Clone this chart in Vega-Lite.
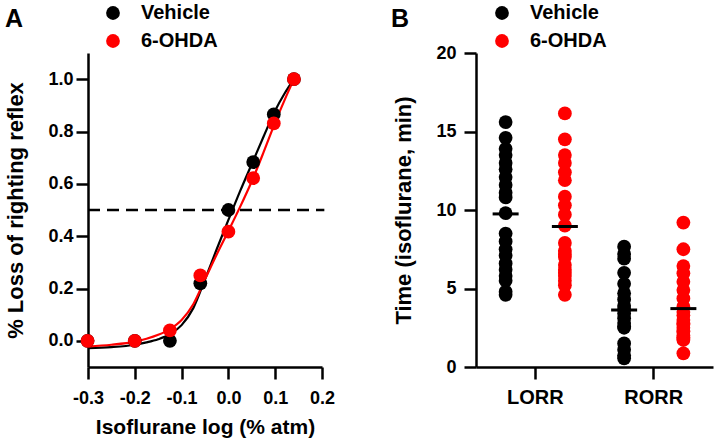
{
  "$schema": "https://vega.github.io/schema/vega-lite/v6.json",
  "background": "white",
  "padding": {"left": 4, "top": 3, "right": 2, "bottom": 2},
  "bounds": "flush",
  "spacing": 154,
  "config": {
    "font": "Liberation Sans",
    "view": {"stroke": null},
    "axis": {
      "grid": false,
      "domainColor": "black",
      "domainWidth": 2.5,
      "tickColor": "black",
      "tickWidth": 2.5,
      "tickSize": 12,
      "labelFont": "Liberation Sans",
      "labelFontWeight": "bold",
      "labelFontSize": 18,
      "labelColor": "black",
      "titleFont": "Liberation Sans",
      "titleFontWeight": "bold",
      "titleColor": "black"
    },
    "legend": {
      "orient": "none",
      "padding": 0,
      "symbolType": "circle",
      "symbolSize": 190,
      "symbolStrokeWidth": 0,
      "symbolOpacity": 1,
      "labelFont": "Liberation Sans",
      "labelFontSize": 20,
      "labelFontWeight": "bold",
      "labelColor": "black",
      "labelOffset": 18,
      "rowPadding": 8
    },
    "title": {"font": "Liberation Sans", "fontSize": 25, "fontWeight": "bold", "color": "black", "anchor": "start", "frame": "group", "baseline": "alphabetic", "offset": -29}
  },
  "datasets": {
    "dose": [
      {"x": -0.301, "y": 0.0, "group": "Vehicle", "z": 0},
      {"x": -0.2, "y": 0.0, "group": "Vehicle", "z": 0},
      {"x": -0.125, "y": 0.0, "group": "Vehicle", "z": 0},
      {"x": -0.06, "y": 0.22, "group": "Vehicle", "z": 0},
      {"x": 0.0, "y": 0.5, "group": "Vehicle", "z": 0},
      {"x": 0.053, "y": 0.683, "group": "Vehicle", "z": 0},
      {"x": 0.097, "y": 0.865, "group": "Vehicle", "z": 0},
      {"x": 0.14, "y": 1.0, "group": "Vehicle", "z": 0},
      {"x": -0.301, "y": 0.0, "group": "6-OHDA", "z": 1},
      {"x": -0.2, "y": 0.0, "group": "6-OHDA", "z": 1},
      {"x": -0.125, "y": 0.04, "group": "6-OHDA", "z": 1},
      {"x": -0.06, "y": 0.25, "group": "6-OHDA", "z": 1},
      {"x": 0.0, "y": 0.417, "group": "6-OHDA", "z": 1},
      {"x": 0.053, "y": 0.622, "group": "6-OHDA", "z": 1},
      {"x": 0.097, "y": 0.831, "group": "6-OHDA", "z": 1},
      {"x": 0.14, "y": 1.0, "group": "6-OHDA", "z": 1}
    ],
    "fit": [
      {"x": -0.3, "y": -0.028, "group": "Vehicle"},
      {"x": -0.25, "y": -0.024, "group": "Vehicle"},
      {"x": -0.2, "y": -0.015, "group": "Vehicle"},
      {"x": -0.175, "y": -0.006, "group": "Vehicle"},
      {"x": -0.15, "y": 0.006, "group": "Vehicle"},
      {"x": -0.125, "y": 0.025, "group": "Vehicle"},
      {"x": -0.1, "y": 0.06, "group": "Vehicle"},
      {"x": -0.075, "y": 0.125, "group": "Vehicle"},
      {"x": -0.05, "y": 0.235, "group": "Vehicle"},
      {"x": -0.025, "y": 0.35, "group": "Vehicle"},
      {"x": 0.0, "y": 0.462, "group": "Vehicle"},
      {"x": 0.025, "y": 0.572, "group": "Vehicle"},
      {"x": 0.05, "y": 0.676, "group": "Vehicle"},
      {"x": 0.075, "y": 0.78, "group": "Vehicle"},
      {"x": 0.1, "y": 0.88, "group": "Vehicle"},
      {"x": 0.12, "y": 0.945, "group": "Vehicle"},
      {"x": 0.14, "y": 1.0, "group": "Vehicle"},
      {"x": -0.3, "y": -0.022, "group": "6-OHDA"},
      {"x": -0.25, "y": -0.015, "group": "6-OHDA"},
      {"x": -0.2, "y": -0.003, "group": "6-OHDA"},
      {"x": -0.175, "y": 0.008, "group": "6-OHDA"},
      {"x": -0.15, "y": 0.023, "group": "6-OHDA"},
      {"x": -0.125, "y": 0.045, "group": "6-OHDA"},
      {"x": -0.1, "y": 0.08, "group": "6-OHDA"},
      {"x": -0.075, "y": 0.14, "group": "6-OHDA"},
      {"x": -0.05, "y": 0.235, "group": "6-OHDA"},
      {"x": -0.025, "y": 0.33, "group": "6-OHDA"},
      {"x": 0.0, "y": 0.42, "group": "6-OHDA"},
      {"x": 0.025, "y": 0.512, "group": "6-OHDA"},
      {"x": 0.05, "y": 0.61, "group": "6-OHDA"},
      {"x": 0.075, "y": 0.72, "group": "6-OHDA"},
      {"x": 0.1, "y": 0.835, "group": "6-OHDA"},
      {"x": 0.12, "y": 0.92, "group": "6-OHDA"},
      {"x": 0.14, "y": 1.0, "group": "6-OHDA"}
    ],
    "ref": [{"x0": -0.3, "x1": 0.205, "y": 0.5}],
    "times": [
      {"event": "LORR", "group": "Vehicle", "time": 15.6},
      {"event": "LORR", "group": "Vehicle", "time": 14.6},
      {"event": "LORR", "group": "Vehicle", "time": 13.9},
      {"event": "LORR", "group": "Vehicle", "time": 13.5},
      {"event": "LORR", "group": "Vehicle", "time": 13.0},
      {"event": "LORR", "group": "Vehicle", "time": 12.6},
      {"event": "LORR", "group": "Vehicle", "time": 12.1},
      {"event": "LORR", "group": "Vehicle", "time": 11.6},
      {"event": "LORR", "group": "Vehicle", "time": 11.1},
      {"event": "LORR", "group": "Vehicle", "time": 10.8},
      {"event": "LORR", "group": "Vehicle", "time": 9.8},
      {"event": "LORR", "group": "Vehicle", "time": 8.5},
      {"event": "LORR", "group": "Vehicle", "time": 8.0},
      {"event": "LORR", "group": "Vehicle", "time": 7.5},
      {"event": "LORR", "group": "Vehicle", "time": 7.1},
      {"event": "LORR", "group": "Vehicle", "time": 6.6},
      {"event": "LORR", "group": "Vehicle", "time": 6.2},
      {"event": "LORR", "group": "Vehicle", "time": 5.8},
      {"event": "LORR", "group": "Vehicle", "time": 5.5},
      {"event": "LORR", "group": "Vehicle", "time": 4.8},
      {"event": "LORR", "group": "Vehicle", "time": 4.6},
      {"event": "LORR", "group": "6-OHDA", "time": 16.15},
      {"event": "LORR", "group": "6-OHDA", "time": 14.5},
      {"event": "LORR", "group": "6-OHDA", "time": 13.5},
      {"event": "LORR", "group": "6-OHDA", "time": 13.0},
      {"event": "LORR", "group": "6-OHDA", "time": 12.4},
      {"event": "LORR", "group": "6-OHDA", "time": 11.9},
      {"event": "LORR", "group": "6-OHDA", "time": 10.85},
      {"event": "LORR", "group": "6-OHDA", "time": 10.3},
      {"event": "LORR", "group": "6-OHDA", "time": 9.7},
      {"event": "LORR", "group": "6-OHDA", "time": 9.0},
      {"event": "LORR", "group": "6-OHDA", "time": 7.9},
      {"event": "LORR", "group": "6-OHDA", "time": 7.4},
      {"event": "LORR", "group": "6-OHDA", "time": 7.2},
      {"event": "LORR", "group": "6-OHDA", "time": 7.0},
      {"event": "LORR", "group": "6-OHDA", "time": 6.5},
      {"event": "LORR", "group": "6-OHDA", "time": 6.2},
      {"event": "LORR", "group": "6-OHDA", "time": 6.0},
      {"event": "LORR", "group": "6-OHDA", "time": 5.8},
      {"event": "LORR", "group": "6-OHDA", "time": 5.5},
      {"event": "LORR", "group": "6-OHDA", "time": 5.2},
      {"event": "LORR", "group": "6-OHDA", "time": 4.6},
      {"event": "RORR", "group": "Vehicle", "time": 7.66},
      {"event": "RORR", "group": "Vehicle", "time": 7.2},
      {"event": "RORR", "group": "Vehicle", "time": 6.9},
      {"event": "RORR", "group": "Vehicle", "time": 6.0},
      {"event": "RORR", "group": "Vehicle", "time": 5.3},
      {"event": "RORR", "group": "Vehicle", "time": 4.7},
      {"event": "RORR", "group": "Vehicle", "time": 4.3},
      {"event": "RORR", "group": "Vehicle", "time": 3.9},
      {"event": "RORR", "group": "Vehicle", "time": 3.7},
      {"event": "RORR", "group": "Vehicle", "time": 3.4},
      {"event": "RORR", "group": "Vehicle", "time": 3.1},
      {"event": "RORR", "group": "Vehicle", "time": 2.8},
      {"event": "RORR", "group": "Vehicle", "time": 2.6},
      {"event": "RORR", "group": "Vehicle", "time": 2.5},
      {"event": "RORR", "group": "Vehicle", "time": 1.5},
      {"event": "RORR", "group": "Vehicle", "time": 1.1},
      {"event": "RORR", "group": "Vehicle", "time": 0.75},
      {"event": "RORR", "group": "Vehicle", "time": 0.55},
      {"event": "RORR", "group": "6-OHDA", "time": 9.2},
      {"event": "RORR", "group": "6-OHDA", "time": 7.5},
      {"event": "RORR", "group": "6-OHDA", "time": 6.43},
      {"event": "RORR", "group": "6-OHDA", "time": 5.97},
      {"event": "RORR", "group": "6-OHDA", "time": 5.43},
      {"event": "RORR", "group": "6-OHDA", "time": 4.9},
      {"event": "RORR", "group": "6-OHDA", "time": 4.37},
      {"event": "RORR", "group": "6-OHDA", "time": 3.84},
      {"event": "RORR", "group": "6-OHDA", "time": 3.5},
      {"event": "RORR", "group": "6-OHDA", "time": 3.3},
      {"event": "RORR", "group": "6-OHDA", "time": 3.0},
      {"event": "RORR", "group": "6-OHDA", "time": 2.78},
      {"event": "RORR", "group": "6-OHDA", "time": 2.7},
      {"event": "RORR", "group": "6-OHDA", "time": 2.5},
      {"event": "RORR", "group": "6-OHDA", "time": 2.3},
      {"event": "RORR", "group": "6-OHDA", "time": 2.25},
      {"event": "RORR", "group": "6-OHDA", "time": 2.0},
      {"event": "RORR", "group": "6-OHDA", "time": 1.9},
      {"event": "RORR", "group": "6-OHDA", "time": 1.8},
      {"event": "RORR", "group": "6-OHDA", "time": 1.72},
      {"event": "RORR", "group": "6-OHDA", "time": 0.87}
    ],
    "means": [
      {"event": "LORR", "group": "Vehicle", "time": 9.75},
      {"event": "LORR", "group": "6-OHDA", "time": 8.95},
      {"event": "RORR", "group": "Vehicle", "time": 3.63},
      {"event": "RORR", "group": "6-OHDA", "time": 3.72}
    ]
  },
  "resolve": {"scale": {"x": "independent", "y": "independent", "color": "independent"}, "legend": {"color": "independent"}},
  "hconcat": [
    {
      "width": 234,
      "height": 314,
      "title": {"text": "A", "dx": -83},
      "layer": [
        {
          "data": {"name": "ref"},
          "mark": {"type": "rule", "color": "black", "strokeWidth": 2.5, "strokeDash": [12, 7]},
          "encoding": {
            "x": {"field": "x0", "type": "quantitative"},
            "x2": {"field": "x1"},
            "y": {"field": "y", "type": "quantitative"}
          }
        },
        {
          "data": {"name": "fit"},
          "transform": [{"filter": "datum.group === 'Vehicle'"}],
          "mark": {"type": "line", "strokeWidth": 2.2, "color": "black", "interpolate": "monotone"},
          "encoding": {
            "x": {"field": "x", "type": "quantitative"},
            "y": {"field": "y", "type": "quantitative"}
          }
        },
        {
          "data": {"name": "fit"},
          "transform": [{"filter": "datum.group === '6-OHDA'"}],
          "mark": {"type": "line", "strokeWidth": 2.2, "color": "#ff0000", "interpolate": "monotone"},
          "encoding": {
            "x": {"field": "x", "type": "quantitative"},
            "y": {"field": "y", "type": "quantitative"}
          }
        },
        {
          "data": {"name": "dose"},
          "mark": {"type": "circle", "size": 190, "opacity": 1},
          "encoding": {
            "x": {
              "field": "x", "type": "quantitative",
              "scale": {"domain": [-0.3, 0.2], "nice": false, "zero": false},
              "axis": {"title": "Isoflurane log (% atm)", "titleFontSize": 21, "titlePadding": 9, "labelPadding": 10, "values": [-0.3, -0.2, -0.1, 0, 0.1, 0.2], "labelExpr": "replace(format(datum.value, '.1f'), '\u2212', '-')", "labelFlush": false}
            },
            "y": {
              "field": "y", "type": "quantitative",
              "scale": {"domain": [-0.1, 1.1], "nice": false, "zero": false},
              "axis": {"title": "% Loss of righting reflex", "titleFontSize": 22, "titlePadding": 20, "labelPadding": 3, "values": [0, 0.2, 0.4, 0.6, 0.8, 1.0], "format": ".1f", "labelFlush": false}
            },
            "color": {
              "field": "group", "type": "nominal",
              "scale": {"domain": ["Vehicle", "6-OHDA"], "range": ["black", "#ff0000"]},
              "legend": {"title": null, "legendX": 15, "legendY": -50}
            },
            "order": {"field": "z"}
          }
        }
      ]
    },
    {
      "width": 237,
      "height": 314,
      "title": {"text": "B", "dx": -85},
      "layer": [
        {
          "data": {"name": "times"},
          "mark": {"type": "circle", "size": 190, "opacity": 1},
          "encoding": {
            "x": {
              "field": "event", "type": "nominal",
              "scale": {"domain": ["LORR", "RORR"], "paddingInner": 0, "paddingOuter": 0},
              "axis": {"title": null, "labelAngle": 0, "labelFontSize": 20, "labelPadding": 8, "ticks": true, "tickSize": 12, "tickWidth": 2.5, "tickColor": "black", "bandPosition": 0.5}
            },
            "xOffset": {
              "field": "group", "type": "nominal",
              "scale": {"domain": ["Vehicle", "6-OHDA"], "paddingInner": 0, "paddingOuter": 0}
            },
            "y": {
              "field": "time", "type": "quantitative",
              "scale": {"domain": [0, 20], "nice": false},
              "axis": {"title": "Time (isoflurane, min)", "titleFontSize": 22, "titlePadding": 20, "labelPadding": 8, "values": [0, 5, 10, 15, 20], "labelFlush": false}
            },
            "color": {
              "field": "group", "type": "nominal",
              "scale": {"domain": ["Vehicle", "6-OHDA"], "range": ["black", "#ff0000"]},
              "legend": {"title": null, "legendX": 16, "legendY": -50}
            }
          }
        },
        {
          "data": {"name": "means"},
          "mark": {"type": "tick", "orient": "horizontal", "color": "black", "opacity": 1, "size": 26, "thickness": 3},
          "encoding": {
            "x": {"field": "event", "type": "nominal"},
            "xOffset": {"field": "group", "type": "nominal"},
            "y": {"field": "time", "type": "quantitative"}
          }
        }
      ]
    }
  ]
}
